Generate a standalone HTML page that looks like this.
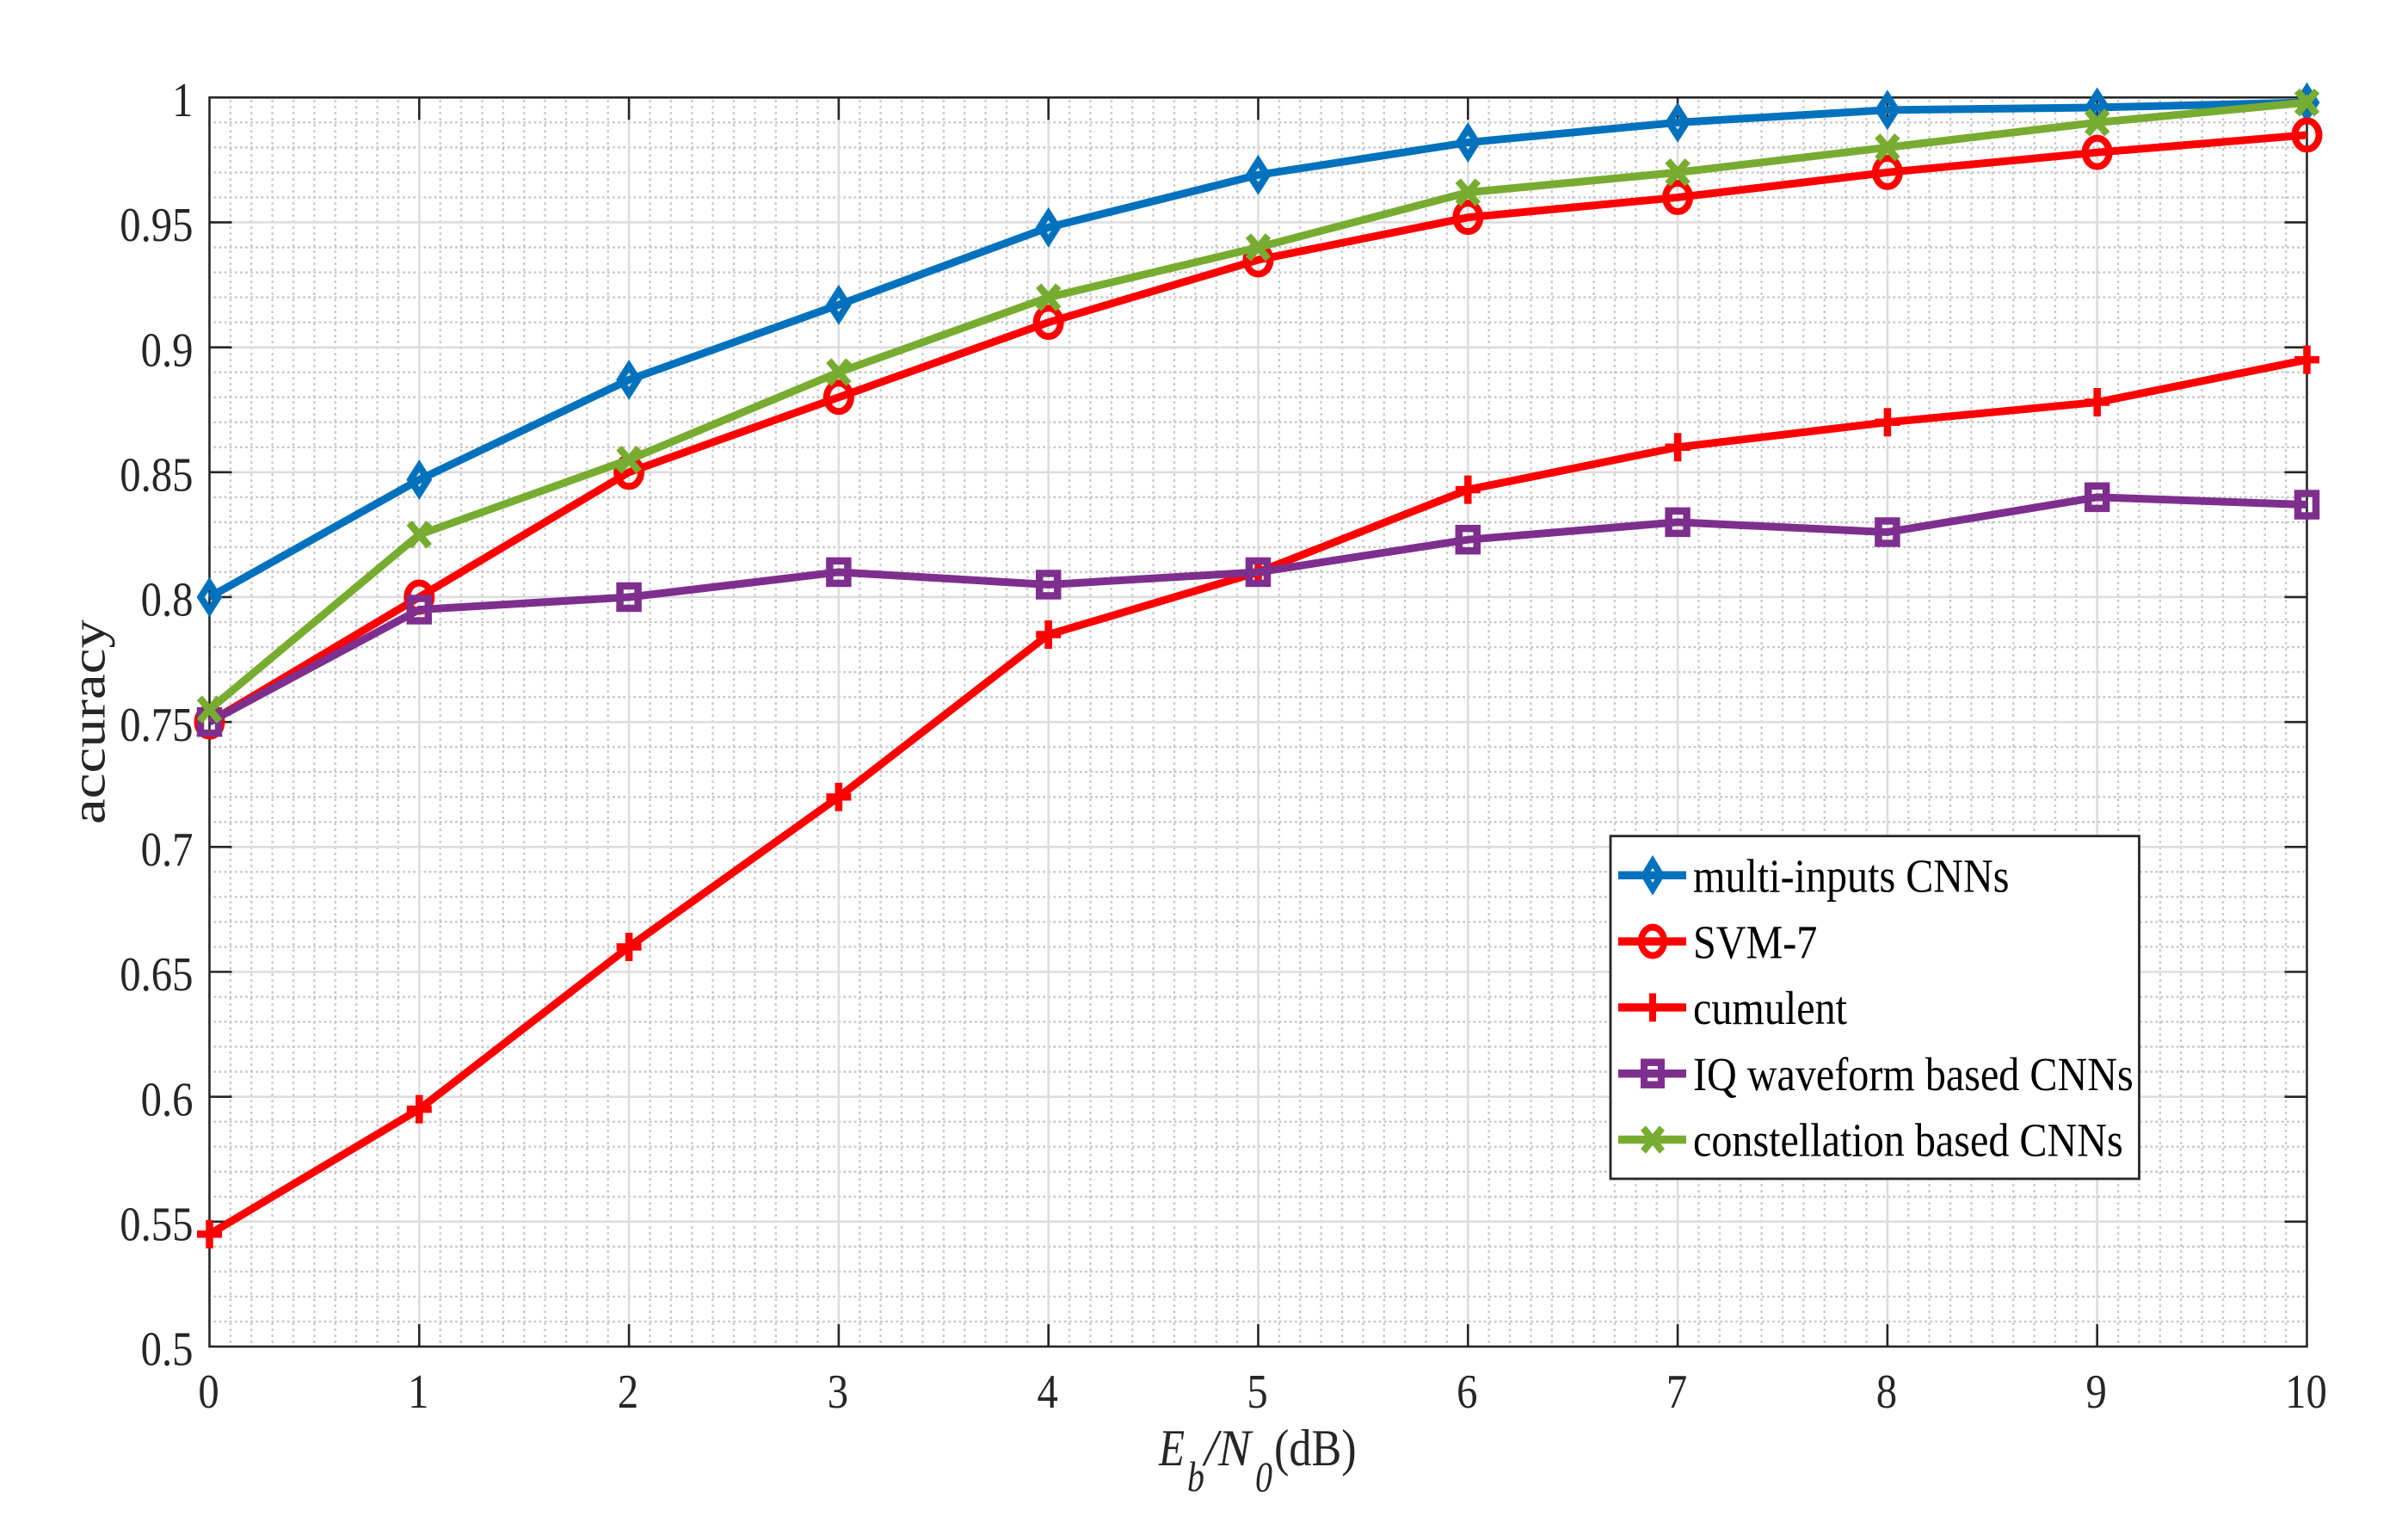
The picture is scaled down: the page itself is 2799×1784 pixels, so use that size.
<!DOCTYPE html>
<html lang="en">
<head>
<meta charset="utf-8">
<title>Accuracy versus Eb/N0</title>
<style>
html,body{margin:0;padding:0;background:#fff;width:2799px;height:1784px;overflow:hidden}
svg{display:block}
text{font-family:"Liberation Serif",serif}
</style>
</head>
<body>
<svg id="chart" xmlns="http://www.w3.org/2000/svg" width="2799" height="1784" viewBox="0 0 2799 1784">
<rect x="0" y="0" width="2799" height="1784" fill="#ffffff"/>
</svg>
<script>
const categories = [0, 1, 2, 3, 4, 5, 6, 7, 8, 9, 10];
const yTickValues = [0.5, 0.55, 0.6, 0.65, 0.7, 0.75, 0.8, 0.85, 0.9, 0.95, 1];
const yTickLabels = ['0.5', '0.55', '0.6', '0.65', '0.7', '0.75', '0.8', '0.85', '0.9', '0.95', '1'];
const xTickLabels = ['0', '1', '2', '3', '4', '5', '6', '7', '8', '9', '10'];
const multiInputsValues = [0.8, 0.847, 0.887, 0.917, 0.948, 0.969, 0.982, 0.99, 0.995, 0.996, 0.998];
const svm7Values = [0.75, 0.8, 0.85, 0.88, 0.91, 0.935, 0.952, 0.96, 0.97, 0.978, 0.985];
const cumulentValues = [0.545, 0.595, 0.66, 0.72, 0.785, 0.81, 0.843, 0.86, 0.87, 0.878, 0.895];
const iqValues = [0.75, 0.795, 0.8, 0.81, 0.805, 0.81, 0.823, 0.83, 0.826, 0.84, 0.837];
const constellationValues = [0.755, 0.825, 0.855, 0.89, 0.92, 0.94, 0.962, 0.97, 0.98, 0.99, 0.998];
const seriesNames = ['multi-inputs CNNs', 'SVM-7', 'cumulent', 'IQ waveform based CNNs', 'constellation based CNNs'];
const seriesValues = [multiInputsValues, svm7Values, cumulentValues, iqValues, constellationValues];
const seriesColors = ['#0072BD', '#FF0000', '#FF0000', '#7E2F8E', '#77AC30'];
const seriesMarkers = ['diamond', 'circle', 'plus', 'square', 'cross'];

const NS = 'http://www.w3.org/2000/svg';
const root = document.getElementById('chart');
const plot = { left: 243.5, right: 2681.5, top: 113.3, bottom: 1565 };
const xMin = 0, xMax = 10, yMin = 0.5, yMax = 1;
const AXIS = '#262626';

function xScale(v) { return plot.left + (v - xMin) / (xMax - xMin) * (plot.right - plot.left); }
function yScale(v) { return plot.bottom - (v - yMin) / (yMax - yMin) * (plot.bottom - plot.top); }

function make(tag, attrs, parent) {
  const el = document.createElementNS(NS, tag);
  for (const k in attrs) el.setAttribute(k, attrs[k]);
  (parent || root).appendChild(el);
  return el;
}

function label(parent, str, x, y, size, sx, anchor, fill, style) {
  const el = make('text', {
    transform: 'translate(' + x + ',' + y + ') scale(' + sx + ',1)',
    'font-size': size,
    'text-anchor': anchor,
    fill: fill
  }, parent);
  if (style) el.setAttribute('font-style', style);
  el.textContent = str;
  return el;
}

function drawMarker(parent, type, color, cx, cy, sx) {
  const g = make('g', {
    transform: 'translate(' + cx + ',' + cy + ') scale(' + sx + ',1)',
    fill: 'none',
    stroke: color
  }, parent);
  if (type === 'diamond') {
    make('polygon', { points: '0,-16 10.2,0 0,16 -10.2,0', 'stroke-width': 8, 'stroke-miterlimit': 10 }, g);
  } else if (type === 'circle') {
    make('ellipse', { cx: 0, cy: 0, rx: 14, ry: 16.5, 'stroke-width': 8 }, g);
  } else if (type === 'square') {
    make('rect', { x: -10.5, y: -13, width: 21, height: 26, 'stroke-width': 8.5 }, g);
  } else if (type === 'plus') {
    make('path', { d: 'M-14.5 0H14.5M0 -16.5V16.5', 'stroke-width': 8.5 }, g);
  } else {
    make('path', { d: 'M-11.5 -13.5L11.5 13.5M-11.5 13.5L11.5 -13.5', 'stroke-width': 8.5 }, g);
  }
  return g;
}

/* Minor grid */
const minorGrid = make('g', { stroke: '#c6c6c6', 'stroke-width': 2.4, fill: 'none' });


for (let i = 0; i < 100; i++) {
  if (i % 10 === 0) continue;
  const xv = xMin + i / 10;
  make('line', { x1: xScale(xv), x2: xScale(xv), y1: plot.top + 3, y2: plot.bottom, 'stroke-dasharray': '2.6 4.4' }, minorGrid);
}
for (let i = 0; i < 50; i++) {
  if (i % 5 === 0) continue;
  const yv = yMin + i / 100;
  make('line', { x1: plot.left + 5, x2: plot.right, y1: yScale(yv), y2: yScale(yv), 'stroke-dasharray': '2.7 3.4' }, minorGrid);
}

/* Major grid */
const majorGrid = make('g', { stroke: '#dddddd', 'stroke-width': 2.6, fill: 'none' });


categories.forEach(function (c) {
  if (c === xMin || c === xMax) return;
  make('line', { x1: xScale(c), x2: xScale(c), y1: plot.top, y2: plot.bottom }, majorGrid);
});
yTickValues.forEach(function (v) {
  if (v === yMin || v === yMax) return;
  make('line', { x1: plot.left, x2: plot.right, y1: yScale(v), y2: yScale(v) }, majorGrid);
});

/* Ticks */
const ticks = make('g', { stroke: AXIS, 'stroke-width': 2.6, fill: 'none' });


const TICK = 26;
categories.forEach(function (c) {
  if (c === xMin || c === xMax) return;
  make('line', { x1: xScale(c), x2: xScale(c), y1: plot.bottom, y2: plot.bottom - TICK }, ticks);
  make('line', { x1: xScale(c), x2: xScale(c), y1: plot.top, y2: plot.top + TICK }, ticks);
});
yTickValues.forEach(function (v) {
  if (v === yMin || v === yMax) return;
  make('line', { x1: plot.left, x2: plot.left + TICK, y1: yScale(v), y2: yScale(v) }, ticks);
  make('line', { x1: plot.right, x2: plot.right - TICK, y1: yScale(v), y2: yScale(v) }, ticks);
});

/* Plot frame */
const frame = make('rect', {
  x: plot.left, y: plot.top,
  width: plot.right - plot.left, height: plot.bottom - plot.top,
  fill: 'none', stroke: AXIS, 'stroke-width': 2.6
});



/* Tick labels */
const yLabels = make('g', {});


yTickValues.forEach(function (v, i) {
  const t = label(yLabels, yTickLabels[i], 224.5, yScale(v) + 21.7, 56, 0.87, 'end', AXIS);
  
  
});
const xLabels = make('g', {});


categories.forEach(function (c, i) {
  const t = label(xLabels, xTickLabels[i], xScale(c) - 1, 1636, 56, 0.87, 'middle', AXIS);
  
  
});

/* Axis titles */
const yTitle = make('text', {
  transform: 'translate(121.7,958) rotate(-90)',
  'font-size': 56,
  fill: AXIS,
  textLength: 238,
  lengthAdjust: 'spacingAndGlyphs'
});
yTitle.textContent = 'accuracy';



const xTitle = make('g', {});


label(xTitle, 'E', 1347, 1703, 60, 0.82, 'start', AXIS, 'italic');
label(xTitle, 'b', 1380, 1733, 50, 0.8, 'start', AXIS, 'italic');
label(xTitle, '/', 1400, 1703, 60, 0.95, 'start', AXIS, 'italic');
label(xTitle, 'N', 1416, 1703, 60, 0.95, 'start', AXIS, 'italic');
label(xTitle, '0', 1459, 1733, 50, 0.8, 'start', AXIS, 'italic');
label(xTitle, '(dB)', 1481, 1703, 60, 0.87, 'start', AXIS);

/* Series */
const seriesLayer = make('g', {});


seriesValues.forEach(function (values, s) {
  const g = make('g', {}, seriesLayer);
  
  
  const pts = values.map(function (v, i) { return xScale(categories[i]) + ',' + yScale(v); }).join(' ');
  const line = make('polyline', {
    points: pts, fill: 'none', stroke: seriesColors[s],
    'stroke-width': 9, 'stroke-linejoin': 'miter'
  }, g);
  
  
  values.forEach(function (v, i) {
    const m = drawMarker(g, seriesMarkers[s], seriesColors[s], xScale(categories[i]), yScale(v), 1);
    
    
  });
});

/* Legend */
const legend = make('g', {});


const legendBox = make('rect', {
  x: 1872, y: 971.7, width: 614.5, height: 398.3,
  fill: '#ffffff', stroke: AXIS, 'stroke-width': 2.8
}, legend);


seriesNames.forEach(function (name, s) {
  const rowY = 1017.3 + s * 76.8;
  const row = make('g', {}, legend);
  
  
  make('line', { x1: 1881, x2: 1960, y1: rowY, y2: rowY, stroke: seriesColors[s], 'stroke-width': 9.5 }, row);
  drawMarker(row, seriesMarkers[s], seriesColors[s], 1921, rowY, 0.95);
  const t = label(row, name, 1968, rowY + 19.2, 55, 0.875, 'start', '#000000');
  
  
});
</script>
</body>
</html>
